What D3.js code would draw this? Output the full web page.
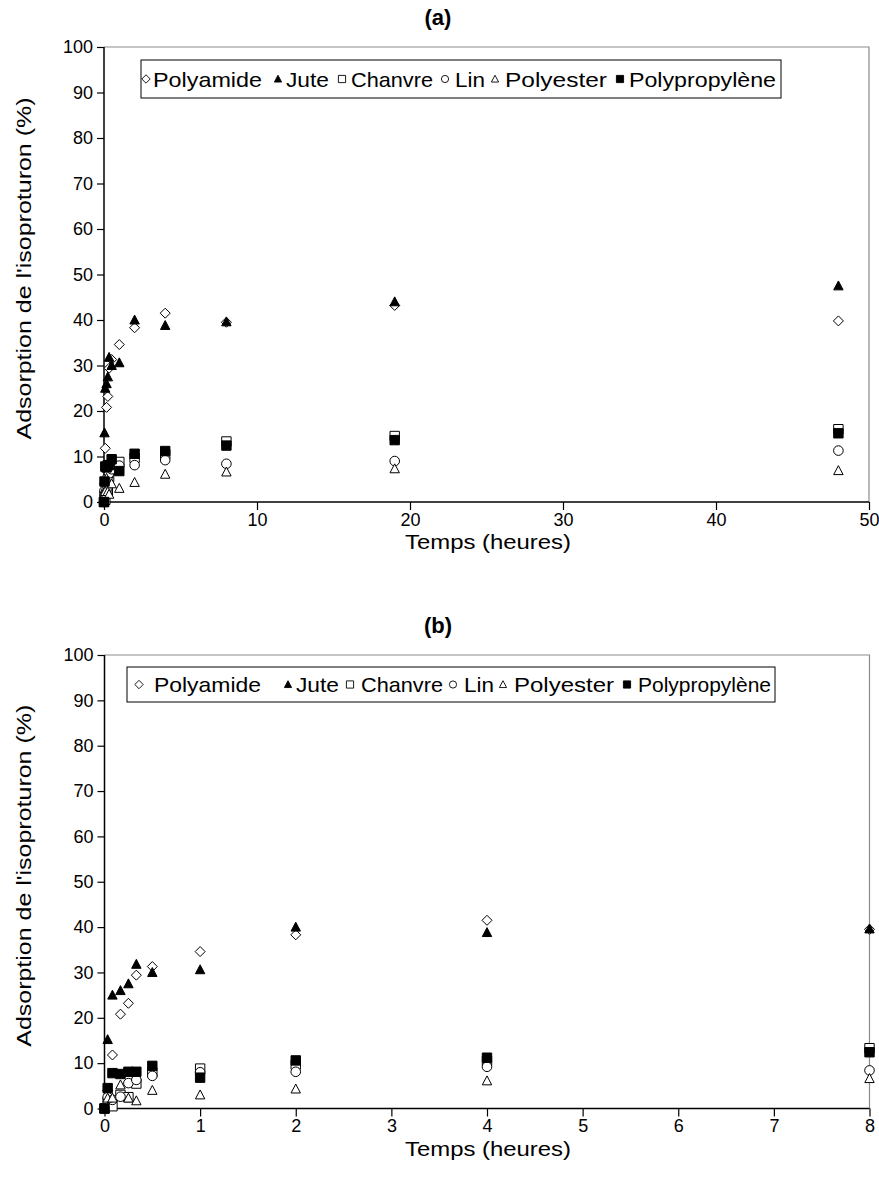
<!DOCTYPE html>
<html><head><meta charset="utf-8">
<script src="https://cdn.jsdelivr.net/npm/d3@7"></script>
<style>
body{margin:0;background:#fff;}
svg text{font-family:"Liberation Sans",Arial,sans-serif;fill:#000;}
</style></head>
<body><svg id="c" width="879" height="1182"></svg>
<script>
// ---- data ----
const times = [0, 0.033, 0.083, 0.167, 0.25, 0.333, 0.5, 1, 2, 4, 8, 19, 48];
const polyamide     = [0, 4,   11.8, 20.8, 23.2, 29.4, 31.3, 34.6, 38.3, 41.5, 39.5, 43.2, 39.8];
const jute          = [0, 15.2, 25.0, 26.0, 27.5, 31.8, 30.0, 30.6, 40.0, 38.8, 39.6, 44.0, 47.5];
const chanvre       = [0, 1.5,  0.5,  3.0,  2.5,  5.5,  8.0,  8.8,  9.7, 10.5, 13.3, 14.5, 16.0];
const lin           = [0, 2.5,  1.9,  2.6,  5.6,  6.3,  7.2,  8.0,  8.1,  9.2,  8.4,  9.0, 11.3];
const polyester     = [0, 2.3,  2.3,  5.2,  2.3,  1.7,  4.0,  3.0,  4.3,  6.1,  6.6,  7.3,  6.9];
const polypropylene = [0, 4.5,  7.8,  7.6,  8.1,  8.1,  9.4,  6.8, 10.6, 11.2, 12.4, 13.6, 15.1];
const seriesNames = ["Polyamide", "Jute", "Chanvre", "Lin", "Polyester", "Polypropylène"];
const seriesValues = [polyamide, jute, chanvre, lin, polyester, polypropylene];
const seriesShapes = ["diamond", "triangle", "square", "circle", "triangle", "square"];
const seriesFilled = [false, true, false, false, false, true];
const yTicks = [0,10,20,30,40,50,60,70,80,90,100];
const xTicksA = [0,10,20,30,40,50];
const xTicksB = [0,1,2,3,4,5,6,7,8];
const panelTitles = ["(a)", "(b)"];
const xTitle = "Temps (heures)";
const yTitle = "Adsorption de l'isoproturon (%)";

const svg = d3.select("#c");

function shapePath(shape, r){
  if(shape==="diamond") return `M0,${-r}L${r},0L0,${r}L${-r},0Z`;
  if(shape==="triangle") return `M0,${-r*1.05}L${r},${r*0.85}L${-r},${r*0.85}Z`;
  if(shape==="square") return `M${-r},${-r}H${r}V${r}H${-r}Z`;
  if(shape==="circle") return `M${r},0A${r},${r} 0 1,1 ${-r},0A${r},${r} 0 1,1 ${r},0Z`;
}

function panel(cfg){
  const g = svg.append("g");
  const x = d3.scaleLinear().domain([0, cfg.xmax]).range([cfg.left, cfg.right]);
  const y = d3.scaleLinear().domain([0, 100]).range([cfg.bottom, cfg.top]);

  g.append("path").attr("d",`M${cfg.left},${cfg.top}H${cfg.right}V${cfg.bottom}`)
    .attr("fill","none").attr("stroke","#8c8c8c").attr("stroke-width",1.2);

  const ya = d3.axisLeft(y).tickValues(yTicks).tickSize(7).tickPadding(4).tickFormat(d3.format("d"));
  const yg = g.append("g").attr("transform",`translate(${cfg.left},0)`).call(ya);
  const xa = d3.axisBottom(x).tickValues(cfg.xticks).tickSize(8).tickPadding(3).tickFormat(d3.format("d"));
  const xg = g.append("g").attr("transform",`translate(0,${cfg.bottom})`).call(xa);
  [yg,xg].forEach(a=>{
    a.select(".domain").attr("stroke","#000").attr("stroke-width",1.5);
    a.selectAll(".tick line").attr("stroke","#000").attr("stroke-width",1.2);
    a.selectAll(".tick text").attr("font-size",18).attr("font-family","Liberation Sans, Arial, sans-serif").attr("fill","#000");
  });
  yg.select(".domain").attr("d",`M0,${cfg.bottom}V${cfg.top}`);
  xg.select(".domain").attr("d",`M${cfg.left},0H${cfg.right}`);

  g.append("text").attr("x",cfg.titleX).attr("y",cfg.titleY).attr("text-anchor","middle")
    .attr("font-size",22).attr("font-weight","bold").text(cfg.title);
  g.append("text").attr("x",488).attr("y",cfg.bottom+47).attr("text-anchor","middle")
    .attr("font-size",20).attr("textLength",166).attr("lengthAdjust","spacingAndGlyphs").text(xTitle);
  g.append("text").attr("transform",`translate(31,${(cfg.top+cfg.bottom)/2-6}) rotate(-90)`).attr("text-anchor","middle")
    .attr("font-size",20).attr("textLength",342).attr("lengthAdjust","spacingAndGlyphs").text(yTitle);

  seriesValues.forEach((vals, si)=>{
    const pts = times.map((t,i)=>({t, v:vals[i]})).filter(d=>d.t<=cfg.xmax);
    g.append("g").selectAll("path").data(pts).join("path")
      .attr("transform",d=>`translate(${x(d.t)},${y(d.v)})`)
      .attr("d",shapePath(seriesShapes[si], seriesShapes[si]==="diamond"?5:(seriesShapes[si]==="circle"?4.8:4.7)))
      .attr("fill",seriesFilled[si]?"#000":"#fff")
      .attr("stroke","#000").attr("stroke-width",1);
  });

  const lg = g.append("g");
  lg.append("rect").attr("x",cfg.leg.x).attr("y",cfg.leg.y).attr("width",cfg.leg.w).attr("height",cfg.leg.h)
    .attr("fill","#fff").attr("stroke","#000").attr("stroke-width",1);
  const cy = cfg.leg.y + cfg.leg.h/2;
  seriesNames.forEach((n,i)=>{
    const it = cfg.leg.items[i];
    lg.append("path").attr("transform",`translate(${it[0]},${cy})`)
      .attr("d",shapePath(seriesShapes[i], seriesShapes[i]==="diamond"?4.2:3.6))
      .attr("fill",seriesFilled[i]?"#000":"#fff").attr("stroke","#000").attr("stroke-width",0.9);
    lg.append("text").attr("x",it[1]).attr("y",cy+7.5).attr("font-size",21)
      .attr("textLength",it[2]).attr("lengthAdjust","spacingAndGlyphs").text(n);
  });
}

panel({xmax:50, xticks:xTicksA, left:104, right:869, top:47, bottom:502, title:panelTitles[0], titleX:438, titleY:25,
  leg:{x:141,y:60,w:640,h:38, items:[[146,153,109],[278,286,43],[342,351,82],[445,455,30],[495,505,102],[620,629,147]]}});
panel({xmax:8, xticks:xTicksB, left:104.5, right:869.5, top:655, bottom:1108.5, title:panelTitles[1], titleX:438, titleY:633,
  leg:{x:127,y:667,w:648,h:35, items:[[139,154,107],[288,296,43],[350,361,82],[453,464,30],[503,514,100],[627,638,133]]}});
</script></body></html>
